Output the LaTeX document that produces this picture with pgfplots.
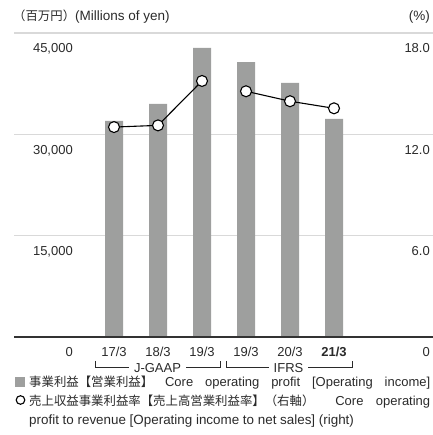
\documentclass[border=0pt]{standalone}
\usepackage{fontspec}
\setmainfont{Liberation Sans}
\newfontfamily\cjk{Noto Sans CJK JP}[Kerning=Off]
\newcommand\jp[1]{{\cjk\fontsize{12.4bp}{15bp}\selectfont #1}}
\usepackage{pgfplots}
\pgfplotsset{compat=1.18}
\definecolor{bargray}{HTML}{9E9F9E}
\definecolor{gridgray}{HTML}{D9D9D9}
\definecolor{txt}{HTML}{2A2A2A}

\begin{document}
\begin{tikzpicture}[x=1bp,y=1bp, font=\fontsize{13bp}{15bp}\selectfont, text=txt]
\pgfplotsset{
  common/.style={
    at={(0,0)}, anchor=south west,
    scale only axis, width=419bp, height=304bp,
    xmin=-2.273, xmax=7.25,
    axis line style={draw=none},
    major tick length=0pt,
    clip=false,
    scaled y ticks=false,
    tick label style={font=\fontsize{13bp}{15bp}\selectfont},
  },
}
% bars, left axis
\begin{axis}[common,
    ymin=0, ymax=45000,
    ytick={0,15000,30000,45000},
    yticklabels={0,{15,000},{30,000},{45,000}},
    yticklabel style={anchor=base east, inner sep=0pt, xshift=59bp, yshift=-20bp, text=txt},
    ymajorgrids, grid style={gridgray, line width=1.3bp},
    xtick={0,1,2,3,4,5},
    xticklabels={17/3,18/3,19/3,19/3,20/3,\textbf{21/3}},
    xticklabel style={anchor=base, inner sep=0pt, yshift=-20bp, text=txt},
]
\addplot[ybar, bar width=18bp, fill=bargray, draw=none] coordinates {
  (0,32000) (1,34500) (2,42800) (3,40700) (4,37600) (5,32300)
};
\draw[black!80, line width=1.2bp] (axis cs:-2.273,0) -- (axis cs:7.25,0);
\end{axis}
% ratio, right axis
\begin{axis}[common,
    ymin=0, ymax=18,
    ytick={0,6,12,18},
    yticklabels={0,6.0,12.0,18.0},
    yticklabel pos=right,
    yticklabel style={anchor=base east, inner sep=0pt, xshift=-3bp, yshift=-20bp, text=txt},
    xtick=\empty,
    unbounded coords=jump,
]
\addplot[black, line width=1.1bp, mark=*, mark size=5.5bp,
  mark options={fill=white, draw=black, line width=1.1bp}] coordinates {
  (0,12.43) (1,12.53) (2,15.16) (2.5,nan) (3,14.55) (4,13.96) (5,13.54)
};
\end{axis}
% header
\node[anchor=base west, inner sep=0pt, font=\fontsize{13.5bp}{15bp}\selectfont] at (-1,316) {\jp{（百万円）}(Millions of yen)};
\node[anchor=base east, inner sep=0pt, font=\fontsize{13.5bp}{15bp}\selectfont] at (416,316) {(\%)};
% accounting standard brackets
\draw[txt, line width=0.8bp] (81,-24) -- (81,-30) -- (206,-30) -- (206,-24);
\draw[txt, line width=0.8bp] (212,-24) -- (212,-30) -- (338,-30) -- (338,-24);
\node[fill=white, inner sep=0pt, inner xsep=5bp, anchor=base] at (143.5,-36) {J-GAAP};
\node[fill=white, inner sep=0pt, inner xsep=5bp, anchor=base] at (274.5,-36) {IFRS};
% legend
\fill[bargray] (1,-49.7) rectangle (11,-39.7);
\node[anchor=base west, inner sep=0pt] at (15,-50)
  {\makebox[401bp][s]{\jp{事業利益【営業利益】}\ Core operating profit [Operating income]}};
\draw[black, line width=1.1bp, fill=white] (6.5,-63) circle (4.3bp);
\node[anchor=base west, inner sep=0pt] at (15,-68)
  {\makebox[401bp][s]{\jp{売上収益事業利益率【売上高営業利益率】（右軸）}\hspace{12bp plus 1fil}Core\hspace{3.6bp plus 1fil}operating}};
\node[anchor=base west, inner sep=0pt, font=\fontsize{13.4bp}{15bp}\selectfont] at (15,-87) {profit to revenue [Operating income to net sales] (right)};
\pgfresetboundingbox
\path[use as bounding box] (-14,-98) rectangle (419,337);
\end{tikzpicture}
\end{document}
